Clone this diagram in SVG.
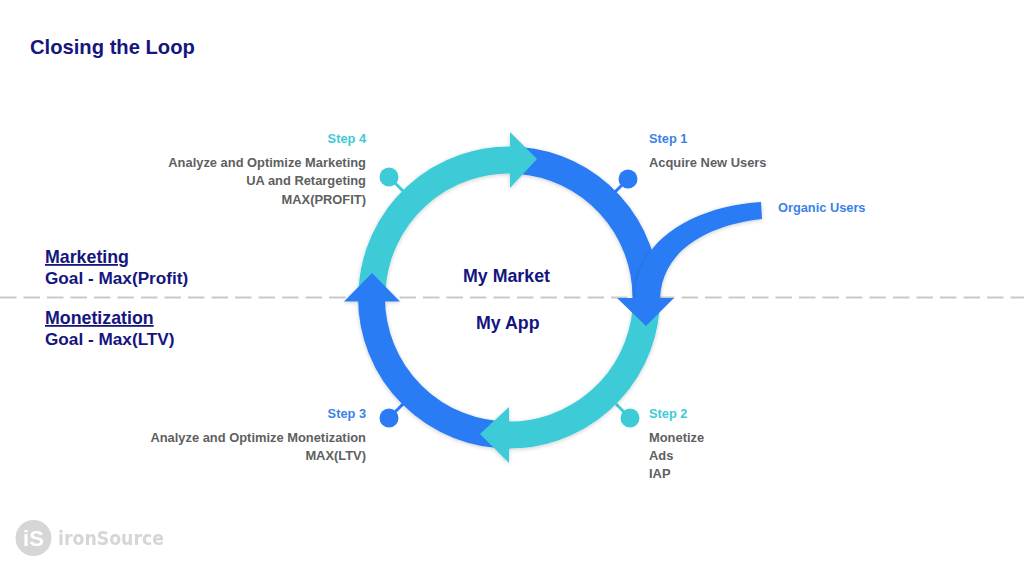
<svg xmlns="http://www.w3.org/2000/svg" width="1024" height="577" viewBox="0 0 1024 577">
<style>
text{font-family:"Liberation Sans",Arial,sans-serif;font-weight:700}
.navy{fill:#15157f;font-size:17.2px}
.mid{fill:#15157f;font-size:17.8px}
.g{fill:#5f5f5f;font-size:12.9px}
.s{font-size:12.8px}
.b{fill:#3a82e6}.t{fill:#3ccbd6}
.arc{fill:none;stroke-width:27}
.tl{stroke:#3ecbd8}.bl{stroke:#2a7bf4}
.tf{fill:#3ecbd8}.bf{fill:#2a7bf4}
.pin{stroke-width:3;fill:none}
.end{text-anchor:end}
</style>
<defs>
<filter id="sh" x="-10%" y="-10%" width="120%" height="120%"><feGaussianBlur in="SourceAlpha" stdDeviation="2"/><feOffset dy="1"/><feComponentTransfer><feFuncA type="linear" slope="0.2"/></feComponentTransfer><feMerge><feMergeNode/><feMergeNode in="SourceGraphic"/></feMerge></filter>
<filter id="soft"><feGaussianBlur stdDeviation="0.7"/></filter>
</defs>
<rect width="1024" height="577" fill="#fff"/>
<line id="divider" x1="0" y1="297.5" x2="1024" y2="297.5" stroke="#c9c9c9" stroke-width="2" stroke-dasharray="16.5 7"/>
<g id="connectors">
<g id="pins">
<path class="pin tl" d="M389 177L403 191"/><path class="pin bl" d="M628 179L615 192"/>
<path class="pin tl" d="M630 418L616 404"/><path class="pin bl" d="M389 418L403 404"/>
</g>
<g filter="url(#sh)">
<path class="arc bl" d="M520 160.500A137.500 137.500 0 0 1 646 298"/>
<path class="arc bl" d="M510 435A137.500 137.500 0 0 1 371.500 298"/>
<path class="arc tl" d="M372 290A137.500 137.500 0 0 1 515 160.200"/>
<path class="tf" d="M510 132L537 159L510 188Z"/>
<path class="arc tl" d="M646 310A137.500 137.500 0 0 1 505 435"/>
<path class="tf" d="M480 434L509 407L509 463Z"/>
<path class="bf" d="M372 273L400 301.500L344 301.500Z"/>
</g>
<path id="organic" class="bf" filter="url(#sh)" d="M761 202L762 219C715 224 662 246 660 299L635 299C634 240 695 206 761 202Z"/>
<path class="bf" d="M617 298L674 298L646 326Z"/>
</g>
<g id="pin-heads">
<circle class="tf" cx="389" cy="177" r="9.500"/><circle class="bf" cx="628" cy="179" r="9.500"/>
<circle class="tf" cx="630" cy="418" r="9.500"/><circle class="bf" cx="389" cy="418" r="9.500"/>
</g>
<text id="title" x="30" y="54" style="font-size:20.2px;fill:#15157f">Closing the Loop</text>
<g id="step4"><text class="s t end" x="366" y="143">Step 4</text>
<text class="g end" x="366" y="167">Analyze and Optimize Marketing</text>
<text class="g end" x="366" y="185">UA and Retargeting</text>
<text class="g end" x="366" y="204">MAX(PROFIT)</text></g>
<g id="step1"><text class="s b" x="649" y="143">Step 1</text>
<text class="g" x="649" y="167">Acquire New Users</text></g>
<g id="organic-users"><text class="s b" x="778" y="212">Organic Users</text></g>
<g id="step2"><text class="s t" x="649" y="418">Step 2</text>
<text class="g" x="649" y="442">Monetize</text>
<text class="g" x="649" y="460">Ads</text>
<text class="g" x="649" y="478">IAP</text></g>
<g id="step3"><text class="s b end" x="366" y="418">Step 3</text>
<text class="g end" x="366" y="442">Analyze and Optimize Monetization</text>
<text class="g end" x="366" y="460">MAX(LTV)</text></g>
<g id="my-market"><text class="mid" x="463" y="282">My Market</text></g>
<g id="my-app"><text class="mid" x="476" y="329">My App</text></g>
<g id="marketing"><text class="navy" x="45" y="263" style="font-size:17.800px" text-decoration="underline">Marketing</text>
<text class="navy" x="45" y="284">Goal - Max(Profit)</text></g>
<g id="monetization"><text class="navy" x="45" y="324" style="font-size:17.800px" text-decoration="underline">Monetization</text>
<text class="navy" x="45" y="345">Goal - Max(LTV)</text></g>
<g id="logo" filter="url(#soft)">
<circle cx="33.500" cy="538" r="18" fill="#d6d6d6"/>
<text x="33.500" y="546" text-anchor="middle" style="font-size:22px;fill:#fff">iS</text>
<text x="58" y="545" style="font-family:'DejaVu Sans',sans-serif;font-size:19px;fill:#d6d6d6" textLength="106" lengthAdjust="spacingAndGlyphs">ironSource</text>
</g>
</svg>
